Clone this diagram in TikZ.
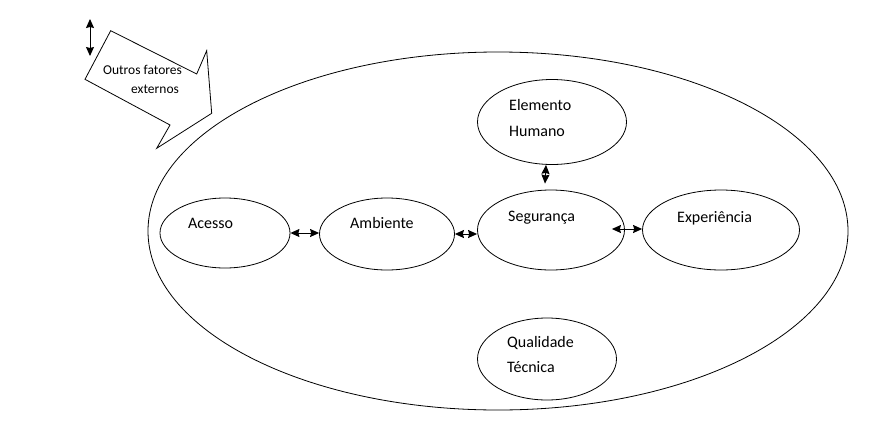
\documentclass[tikz,border=0pt]{standalone}
\usepackage{fontspec}
\setmainfont{Carlito}
\usetikzlibrary{shapes.geometric,arrows.meta}
\tikzset{
  oval/.style={draw,ellipse,line width=0.8pt,inner sep=0pt},
  lbl/.style={font=\fontsize{16}{18}\selectfont,inner sep=0pt,anchor=west},
  dbl/.style={line width=1pt,{Stealth[length=9pt,width=8pt,inset=1pt]}-{Stealth[length=9pt,width=8pt,inset=1pt]}},
}
\begin{document}
\begin{tikzpicture}[x=1pt,y=-1pt]
\useasboundingbox (0,0) rectangle (878,434);
% outer ellipse
\node[oval,minimum width=700pt,minimum height=358pt] (outer) at (498,231) {};
% inner ellipses
\node[oval,minimum width=130pt,minimum height=70pt] (ace) at (225,233) {};
\node[oval,minimum width=135pt,minimum height=72pt] (amb) at (387,234) {};
\node[oval,minimum width=147pt,minimum height=80pt] (seg) at (551,230) {};
\node[oval,minimum width=157pt,minimum height=80pt] (exp) at (721,230) {};
\node[oval,minimum width=149pt,minimum height=85pt] (hum) at (552,122) {};
\node[oval,minimum width=139pt,minimum height=82pt] (qua) at (547,359) {};
% labels
\node[lbl] (tace) at (188,223) {Acesso};
\node[lbl] (tamb) at (350,223) {Ambiente};
\node[lbl] (tseg) at (508,218) {Segurança};
\node[lbl] (texp) at (677,218) {Experiência};
\node[lbl] (thum1) at (509,105) {Elemento};
\node[lbl] (thum2) at (509,131) {Humano};
\node[lbl] (tqua1) at (507,343) {Qualidade};
\node[lbl] (tqua2) at (507,367) {Técnica};
% connectors
\draw[dbl] (ace.east) -- (ace.east -| amb.west);
\draw[dbl] (amb.east) -- (amb.east -| seg.west);
\draw[dbl] ([xshift=-13pt,yshift=1pt]seg.east) -- ([yshift=1pt]exp.west);
\draw[dbl] ([xshift=-6pt]hum.south) -- ([xshift=-6pt,yshift=6pt]seg.north);
% big arrow shape
\draw[line width=0.8pt,line join=miter] (110.7,30.7) -- (196.7,74) -- (206.7,50.7) -- (211.7,113.3)
  -- (156.7,148.3) -- (170,125) -- (85,79.3) -- cycle;
\node[font=\fontsize{13.5}{15}\selectfont,inner sep=0pt,anchor=west] (o1) at (103,70) {Outros fatores};
\node[font=\fontsize{13.5}{15}\selectfont,inner sep=0pt,anchor=west] (o2) at (131,89) {externos};
% small vertical arrow
\coordinate (va) at (90,19);
\coordinate (vb) at (90,56);
\draw[dbl] (va) -- (vb);
\end{tikzpicture}
\end{document}
